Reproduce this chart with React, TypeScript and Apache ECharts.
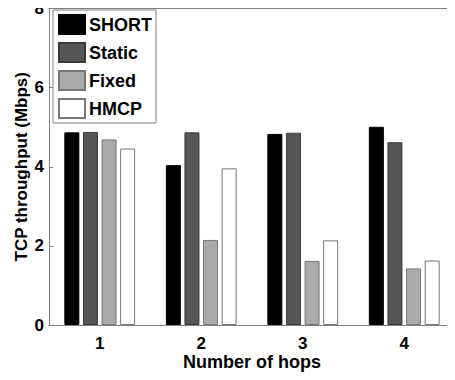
import React, { useEffect, useRef } from "react";
import * as echarts from "echarts";

const categories = ["1", "2", "3", "4"];
const seriesNames = ["SHORT", "Static", "Fixed", "HMCP"];
const shortValues = [4.87, 4.04, 4.83, 5.01];
const staticValues = [4.88, 4.87, 4.86, 4.62];
const fixedValues = [4.69, 2.15, 1.62, 1.43];
const hmcpValues = [4.46, 3.96, 2.14, 1.63];
const yTicks = [0, 2, 4, 6, 8];

const FONT = "'Liberation Sans', Arial, Helvetica, sans-serif";

export default function App() {
  const ref = useRef<HTMLDivElement>(null);
  useEffect(() => {
    if (!ref.current) return;
    const chart = echarts.init(ref.current, null, { renderer: "svg" });
    const values = [shortValues, staticValues, fixedValues, hmcpValues];
    const fills = ["#000000", "#565656", "#aaaaaa", "#ffffff"];
    const borders = ["#000000", "#3a3a3a", "#777777", "#777777"];
    const axisColor = "#808080";
    chart.setOption({
      animation: false,
      textStyle: { fontFamily: FONT },
      grid: { left: 49, top: 8, width: 414, height: 317, containLabel: false },
      legend: {
        data: seriesNames,
        orient: "vertical",
        left: 53,
        top: 10,
        backgroundColor: "#ffffff",
        borderColor: "#808080",
        borderWidth: 1,
        padding: [4, 4, 4, 5],
        itemWidth: 26,
        itemHeight: 19,
        itemGap: 7,
        icon: "rect",
        textStyle: { fontFamily: FONT, fontSize: 18, fontWeight: "bold", color: "#000", padding: [0, 0, 0, -1] },
        selectedMode: false,
      },
      xAxis: [
        {
          type: "category",
          data: categories,
          position: "bottom",
          name: "Number of hops",
          nameLocation: "middle",
          nameGap: 28,
          nameMoveOverlap: false,
          nameTextStyle: { fontFamily: FONT, fontSize: 18, fontWeight: "bold", color: "#000" },
          axisLine: { lineStyle: { color: axisColor, width: 1 } },
          axisTick: { inside: true, alignWithLabel: true, length: 4, lineStyle: { color: axisColor } },
          axisLabel: { fontFamily: FONT, fontSize: 17, fontWeight: "bold", color: "#000", margin: 10 },
          splitLine: { show: false },
        },
        {
          type: "category",
          data: categories,
          position: "top",
          axisLine: { lineStyle: { color: axisColor, width: 1 } },
          axisTick: { inside: true, alignWithLabel: true, length: 4, lineStyle: { color: axisColor } },
          axisLabel: { show: false },
          splitLine: { show: false },
        },
      ],
      yAxis: {
        type: "value",
        min: yTicks[0],
        max: yTicks[yTicks.length - 1],
        interval: 2,
        name: "TCP throughput (Mbps)",
        nameLocation: "middle",
        nameGap: 19,
        nameMoveOverlap: false,
        nameTextStyle: { fontFamily: FONT, fontSize: 17, fontWeight: "bold", color: "#000" },
        axisLine: { show: true, lineStyle: { color: axisColor, width: 1 } },
        axisTick: { show: true, inside: true, length: 4, lineStyle: { color: axisColor } },
        axisLabel: { fontFamily: FONT, fontSize: 17, fontWeight: "bold", color: "#000", margin: 5, padding: [5, 0, 0, 0] },
        splitLine: { show: false },
      },
      series: seriesNames.map((name, i) => ({
        name,
        type: "bar",
        xAxisIndex: 0,
        data: values[i],
        barWidth: 15,
        barGap: "24%",
        itemStyle: { color: fills[i], borderColor: borders[i], borderWidth: 1 },
      })),
    });
    return () => chart.dispose();
  }, []);
  return <div ref={ref} style={{ width: 455, height: 380, margin: -8 }} />;
}
